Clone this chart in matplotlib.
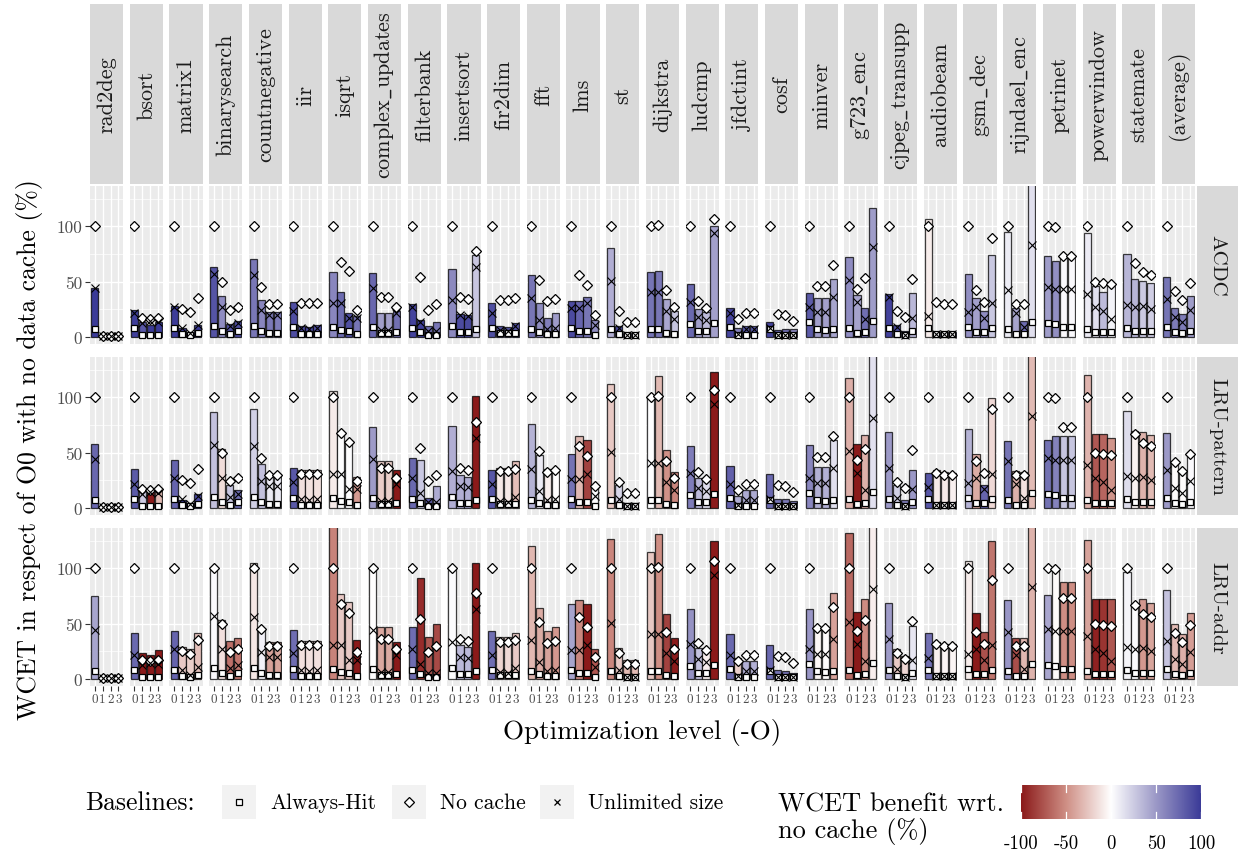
import numpy as np
import matplotlib.pyplot as plt
from matplotlib.colors import LinearSegmentedColormap, Normalize

plt.rcParams['font.family'] = ['cmr10', 'DejaVu Serif']
plt.rcParams['mathtext.fontset'] = 'cm'
plt.rcParams['axes.formatter.use_mathtext'] = True

benchmarks = ['rad2deg', 'bsort', 'matrix1', 'binarysearch', 'countnegative', 'iir', 'isqrt',
              'complex_updates', 'filterbank', 'insertsort', 'fir2dim', 'fft', 'lms', 'st',
              'dijkstra', 'ludcmp', 'jfdctint', 'cosf', 'minver', 'g723_enc', 'cjpeg_transupp',
              'audiobeam', 'gsm_dec', 'rijndael_enc', 'petrinet', 'powerwindow', 'statemate',
              '(average)']
caches = ['ACDC', 'LRU-pattern', 'LRU-addr']
levels = ['0', '1', '2', '3']

# baselines, one row per benchmark, -O0..-O3 (% of O0 without data cache)
always_hit = [
    [7.5, 0.3, 0.3, 0.3], [8.1, 1.5, 1.5, 1.5], [8.1, 2.4, 1.5, 3.3], [9.6, 5.0, 3.0, 5.0],
    [10.2, 5.0, 3.3, 3.3], [8.7, 3.0, 3.0, 3.0], [8.7, 6.0, 5.0, 3.0], [8.7, 3.3, 3.3, 4.0],
    [8.1, 4.0, 2.0, 2.0], [9.6, 4.8, 4.8, 7.5], [8.1, 3.3, 3.3, 3.3], [7.5, 4.2, 3.0, 3.0],
    [8.1, 5.0, 5.0, 2.0], [7.5, 3.0, 1.5, 1.5], [7.5, 7.5, 3.6, 2.4], [11.7, 5.0, 5.0, 12.3],
    [8.7, 2.0, 2.0, 2.0], [7.5, 1.5, 1.5, 1.5], [13.0, 7.0, 6.6, 7.5], [8.1, 3.6, 4.5, 14.0],
    [8.1, 2.4, 1.5, 5.0], [8.1, 3.0, 3.0, 3.0], [8.7, 4.0, 4.0, 8.1], [7.5, 2.4, 2.4, 13.3],
    [12.3, 11.4, 9.0, 9.0], [7.5, 4.2, 4.2, 4.2], [8.1, 5.7, 5.0, 5.0], [8.7, 4.2, 3.6, 5.0]]
no_cache = [
    [100, 0.3, 0.3, 0.3], [100, 16.9, 15.7, 16.9], [100, 25.0, 22.6, 35.0], [100, 50.0, 24.7, 27.4],
    [100, 45.5, 29.5, 29.5], [100, 31.0, 31.0, 31.0], [100, 68.0, 59.3, 24.4], [100, 35.8, 35.8, 27.0],
    [100, 54.0, 24.0, 30.0], [100, 35.8, 34.0, 78.0], [100, 33.0, 33.0, 35.0], [100, 51.0, 32.8, 34.6],
    [100, 55.7, 47.3, 20.0], [100, 23.8, 13.3, 13.3], [100, 100.9, 42.8, 26.8], [100, 32.2, 26.2, 106.6],
    [100, 16.3, 21.7, 21.7], [100, 20.8, 19.3, 14.0], [100, 46.0, 46.0, 65.4], [100, 43.7, 53.0, 150],
    [100, 23.8, 17.8, 52.0], [100, 31.6, 30.0, 30.0], [100, 42.5, 31.6, 89.5], [100, 30.0, 30.0, 150],
    [100, 99.0, 72.9, 72.9], [100, 49.7, 49.0, 48.2], [100, 66.9, 58.4, 56.0], [100, 41.9, 33.1, 49.0]]
unlimited = [
    [44, 0.3, 0.3, 0.3], [21.7, 12.6, 14.5, 13.3], [27, 8, 3.6, 11], [57, 27, 9.6, 12.3],
    [55.7, 24.7, 19.6, 19.3], [23.2, 8.1, 7.5, 8.1], [31, 31, 17.2, 16.6], [44.3, 6.6, 6.0, 21.7],
    [27, 13.5, 5, 5], [33.7, 19.6, 18.7, 63], [21.7, 6, 5, 9.6], [35, 14.8, 7.2, 8.1],
    [26.2, 26.2, 30.7, 11], [50.6, 8, 2, 2], [40.4, 40.4, 23.2, 16.3], [31.3, 17.8, 15.4, 93.7],
    [21.7, 2.7, 7.5, 7.5], [8, 2, 2, 2], [27, 22.6, 22.6, 36], [51.2, 31.6, 16.3, 81.6],
    [36, 9, 1.5, 16.6], [18.7, 3, 3, 3], [22.3, 26.8, 17.2, 31], [42.8, 21.4, 9, 82.8],
    [45.2, 43.4, 43.4, 43.4], [38.9, 26.8, 23.2, 16.3], [29.2, 26.8, 27.7, 25.6], [34, 17.8, 13.3, 24.1]]

# WCET per cache analysis
wcet_acdc = [
    [44, 0.3, 0.3, 0.3], [24.1, 13.3, 11.1, 13.3], [27.7, 8, 3.6, 11], [63, 37, 11.7, 13.9],
    [70, 33, 22.9, 22.9], [31.3, 10.2, 9.3, 10.5], [59, 40.7, 22, 19], [57.5, 22, 22, 23.2],
    [30, 15, 10, 13], [61.4, 21, 20, 73.8], [30.7, 10.2, 9, 12.7], [55.7, 30.7, 16.6, 21.7],
    [32.8, 32.8, 36, 15], [80.4, 9.6, 3.6, 3.6], [58.7, 60, 34.3, 23.8], [48.2, 25.3, 22.6, 100.6],
    [26.2, 8, 9.6, 9.6], [13.5, 6, 7, 7], [40, 35, 35.2, 52.4], [72.3, 38.3, 26.5, 117],
    [38.9, 10.5, 5, 39.8], [106.6, 4.5, 4.5, 4.5], [57.2, 35.2, 23.5, 73.8], [94.9, 26.2, 14.5, 140],
    [73.5, 68.4, 72, 72], [94, 46.4, 40.4, 46.4], [75, 52.4, 50.3, 48.8], [54.2, 26.2, 20.2, 37]]
wcet_lru_pattern = [
    [57.4, 0.3, 0.3, 0.3], [35.4, 15.8, 17.0, 18.0], [43.5, 7.2, 4.8, 12.9], [87, 53.5, 20.4, 16.2],
    [89.8, 39.3, 28.5, 28.5], [35.7, 34.2, 34, 34], [106, 67.9, 58.9, 27.9], [73, 42.3, 42.3, 34.2],
    [44.7, 43, 8.7, 19.8], [73.9, 29.4, 27.9, 100.9], [34.2, 35.7, 35.7, 42.3], [76, 47.4, 34.8, 34.8],
    [48.3, 64.9, 61, 19.8], [112.3, 20.7, 4.8, 4.8], [100, 119.5, 52.3, 32.4], [55.9, 27.3, 24.3, 122.5],
    [37.8, 10.8, 15.9, 15.9], [30.3, 7.8, 7.8, 6.3], [56.5, 36.9, 36.9, 61], [117.4, 57.4, 65.8, 140],
    [68.5, 20.4, 7.2, 34.2], [31.2, 34.2, 32.4, 31.8], [70.9, 48.3, 20.4, 99.4], [60.4, 33, 32.7, 170],
    [61.3, 64.6, 64.6, 64.6], [120.4, 66.4, 66.4, 63.4], [88, 69.4, 68.8, 65.5], [67.3, 42.3, 33.3, 48.3]]
wcet_lru_addr = [
    [75.4, 0.3, 0.3, 0.3], [41.1, 23.7, 21.3, 25.8], [43.2, 29.1, 26.7, 41.7], [98.8, 53.2, 34.2, 36.6],
    [104.8, 44.1, 33.6, 33.6], [43.8, 34.2, 34.2, 34.2], [138, 76.9, 69.4, 34.8], [100.3, 47.1, 47.1, 33.6],
    [46.8, 91.3, 38.1, 49.8], [98.8, 30.3, 28.8, 104.8], [43.2, 38.1, 37.8, 41.1], [120.4, 64.3, 43.2, 46.8],
    [67.3, 71.2, 67.3, 26.7], [126.4, 27.6, 16.8, 16.8], [114.7, 131.2, 58.9, 37.2], [63.4, 28, 27, 124.3],
    [40.8, 19.2, 16.2, 16.2], [30.3, 7.8, 7.2, 5.7], [62.8, 46.8, 46.2, 77.8], [132.4, 60.7, 71.8, 155],
    [68.8, 27.3, 20.7, 47.7], [41.7, 33.6, 31.2, 31.2], [106.3, 59.2, 42.6, 124.9], [70.9, 36.6, 36.6, 173],
    [76.3, 100.3, 87.7, 87.7], [125.2, 71.8, 71.8, 71.8], [96.4, 66, 72.4, 68.2], [80.8, 49.2, 40.2, 59.8]]
wcet = [wcet_acdc, wcet_lru_pattern, wcet_lru_addr]

cmap = LinearSegmentedColormap.from_list(
    'benefit', [(0, '#8B1A1A'), (0.25, '#CF8F85'), (0.5, '#FFFFFF'), (0.75, '#9C99C7'), (1, '#3B3B98')])
norm = Normalize(-100, 100)

W, H = 1238, 854
fig = plt.figure(figsize=(W / 100, H / 100), dpi=100)


def box(x0, y0, w, h):
    # pixel box measured from the top-left corner -> figure fraction
    return [x0 / W, 1 - (y0 + h) / H, w / W, h / H]


PW, PH = 33.2, 158
x = np.arange(4)

for c, name in enumerate(benchmarks):
    x0 = 90 + c * 39.7
    st = fig.add_axes(box(x0, 5, PW, 180))
    st.set_facecolor('#D9D9D9')
    st.set_xticks([]); st.set_yticks([])
    for s in st.spines.values():
        s.set_visible(False)
    # cmr10 has no plain underscore glyph, draw it through mathtext
    st.text(0.5, 0.5, name.replace('_', r'$\_$'), rotation=90, ha='center', va='center',
            fontsize=16, color='#1A1A1A', transform=st.transAxes)

    nc = np.array(no_cache[c], float)
    un = np.array(unlimited[c], float)
    for r in range(3):
        y0 = 187 + r * 171
        ax = fig.add_axes(box(x0, y0, PW, PH))
        ax.set_facecolor('#EBEBEB')
        v = np.array(wcet[r][c], float)
        den = nc - un
        ben = np.where(den > 0.5, (nc - v) / np.where(den > 0.5, den, 1) * 100, 0)
        ben = np.clip(ben, -100, 100)
        ax.bar(x, v, width=0.9, color=cmap(norm(ben)), edgecolor=(0, 0, 0, 0.75),
               linewidth=0.9, zorder=2)
        ax.plot(x, always_hit[c], 's', ms=4, mfc='white', mec='black', mew=0.9, zorder=3)
        ax.plot(x, no_cache[c], 'D', ms=5.5, mfc='white', mec='black', mew=0.9, zorder=4)
        ax.plot(x, unlimited[c], 'x', ms=5.5, mec='black', mew=0.8, zorder=5)

        ax.set_xlim(-0.6, 3.6)
        ax.set_ylim(-6.5, 136.5)
        for g in [0, 50, 100]:
            ax.axhline(g, color='white', lw=1.0, zorder=1)
        for g in [25, 75, 125]:
            ax.axhline(g, color='white', lw=0.5, zorder=1)
        for g in x:
            ax.axvline(g, color='white', lw=1.0, zorder=1)
        for s in ax.spines.values():
            s.set_visible(False)

        ax.set_xticks(x)
        if r == 2:
            ax.set_xticklabels(levels, fontsize=9.5, color='#4D4D4D')
            ax.tick_params(axis='x', length=3.5, width=0.8, color='#333333', pad=1.5)
        else:
            ax.set_xticklabels([])
            ax.tick_params(axis='x', length=0)
        ax.set_yticks([0, 50, 100])
        if c == 0:
            ax.set_yticklabels(['0', '50', '100'], fontsize=12.5, color='#4D4D4D')
            ax.tick_params(axis='y', length=3.5, width=0.8, color='#333333', pad=2)
        else:
            ax.set_yticklabels([])
            ax.tick_params(axis='y', length=0)

        if c == len(benchmarks) - 1:
            rs = fig.add_axes(box(1197, y0, 41, PH))
            rs.set_facecolor('#D9D9D9')
            rs.set_xticks([]); rs.set_yticks([])
            for s in rs.spines.values():
                s.set_visible(False)
            rs.text(0.5, 0.5, caches[r], rotation=-90, ha='center', va='center',
                    fontsize=15, color='#1A1A1A', transform=rs.transAxes)

fig.text(30 / W, 1 - 450 / H, 'WCET in respect of O0 with no data cache (%)', rotation=90,
         ha='center', va='center', fontsize=18.5)
fig.text(642 / W, 1 - 733 / H, 'Optimization level (-O)', ha='center', va='center', fontsize=19.5)

# baseline legend
fig.text(85 / W, 1 - 803 / H, 'Baselines:', ha='left', va='center', fontsize=18.5)
keys = [('s', 4, 'Always-Hit', 222), ('D', 5, 'No cache', 392), ('x', 5, 'Unlimited size', 540)]
for mk, ms, label, kx in keys:
    k = fig.add_axes(box(kx, 786, 34, 34))
    k.set_facecolor('#F2F2F2')
    k.set_xticks([]); k.set_yticks([])
    for s in k.spines.values():
        s.set_visible(False)
    k.set_xlim(-1, 1); k.set_ylim(-1, 1)
    k.plot([0], [0], mk, ms=ms, mfc='white', mec='black', mew=0.9)
    fig.text((kx + 48) / W, 1 - 803 / H, label, ha='left', va='center', fontsize=15.5)

# colour bar
fig.text(778 / W, 1 - 805 / H, 'WCET benefit wrt.', ha='left', va='center', fontsize=19)
fig.text(778 / W, 1 - 832 / H, 'no cache (%)', ha='left', va='center', fontsize=19)
cb = fig.add_axes(box(1021, 786, 180, 34))
grad = np.linspace(-100, 100, 256)[None, :]
cb.imshow(grad, aspect='auto', cmap=cmap, norm=norm, extent=[-100, 100, 0, 1])
for t in [-100, -50, 0, 50, 100]:
    cb.plot([t, t], [0, 0.2], color='white', lw=0.9)
    cb.plot([t, t], [0.8, 1], color='white', lw=0.9)
cb.set_xlim(-100, 100); cb.set_ylim(0, 1)
cb.set_yticks([])
cb.set_xticks([-100, -50, 0, 50, 100])
cb.set_xticklabels(['-100', '-50', '0', '50', '100'], fontsize=13.5)
cb.tick_params(axis='x', length=0, pad=11)
for s in cb.spines.values():
    s.set_visible(False)

fig.savefig('out.png', dpi=100)
